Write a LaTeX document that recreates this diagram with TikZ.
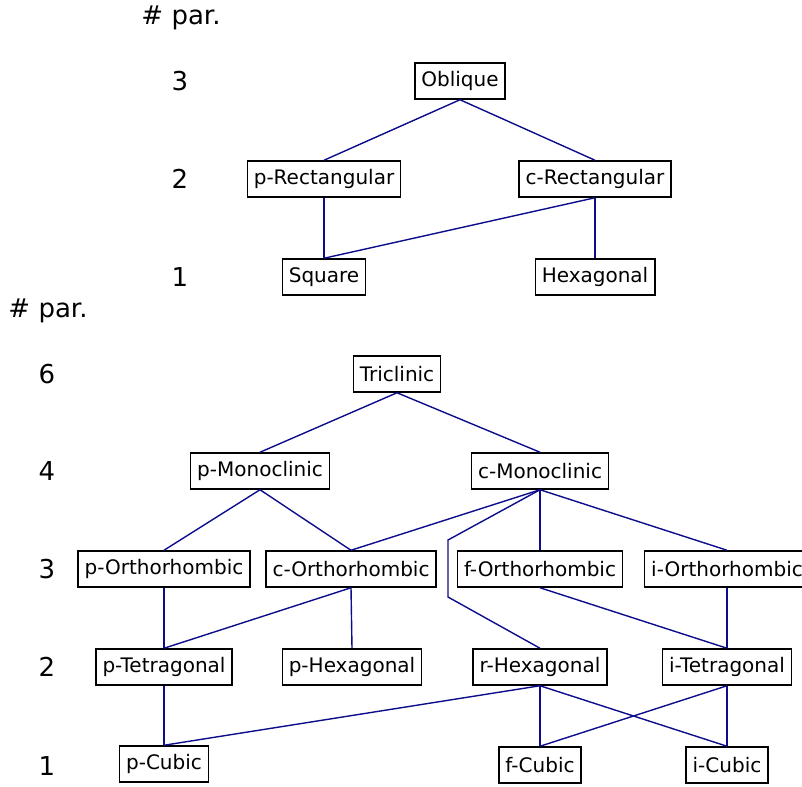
\documentclass[tikz,border=0pt]{standalone}
\usepackage{fontspec}
\setmainfont{DejaVu Sans}

\definecolor{edgeblue}{rgb}{0.05,0.05,0.55}

\tikzset{
  lattice/.style={draw=black, line width=1.5pt, fill=white, inner xsep=6.5pt, inner ysep=0pt,
    minimum height=36pt, font=\fontsize{20}{24}\selectfont},
  npar/.style={font=\fontsize{26}{30}\selectfont},
  link/.style={edgeblue, line width=1.4pt}
}

\begin{document}
\begin{tikzpicture}[x=1pt,y=-1pt]
  \useasboundingbox (0,0) rectangle (802,786);

  % 2D lattices
  \node[npar] (par2d) at (181,18) {\# par.};
  \node[npar] (n3a) at (180,81) {3};
  \node[npar] (n2a) at (180,179) {2};
  \node[npar] (n1a) at (180,277) {1};

  \node[lattice] (obl) at (460,81) {Oblique};
  \node[lattice] (prect) at (324,179) {p-Rectangular};
  \node[lattice] (crect) at (595,179) {c-Rectangular};
  \node[lattice] (sq) at (324,277) {Square};
  \node[lattice] (hex) at (595,277) {Hexagonal};

  \draw[link] (obl.south) -- (prect.north);
  \draw[link] (obl.south) -- (crect.north);
  \draw[link] (prect.south) -- (sq.north);
  \draw[link] (crect.south) -- (sq.north);
  \draw[link] (crect.south) -- (hex.north);

  % 3D lattices
  \node[npar] (par3d) at (48,311) {\# par.};
  \node[npar] (n6) at (47,374) {6};
  \node[npar] (n4) at (47,471) {4};
  \node[npar] (n3) at (47,569) {3};
  \node[npar] (n2) at (47,667) {2};
  \node[npar] (n1) at (47,766) {1};

  \node[lattice] (tric) at (397,374) {Triclinic};
  \node[lattice] (pmono) at (260,471) {p-Monoclinic};
  \node[lattice] (cmono) at (540,471) {c-Monoclinic};
  \node[lattice] (porth) at (164,569) {p-Orthorhombic};
  \node[lattice] (corth) at (351,569) {c-Orthorhombic};
  \node[lattice] (forth) at (540,569) {f-Orthorhombic};
  \node[lattice] (iorth) at (727,569) {i-Orthorhombic};
  \node[lattice] (ptet) at (164,667) {p-Tetragonal};
  \node[lattice] (phex) at (352,667) {p-Hexagonal};
  \node[lattice] (rhex) at (540,667) {r-Hexagonal};
  \node[lattice] (itet) at (727,667) {i-Tetragonal};
  \node[lattice] (pcub) at (164,764) {p-Cubic};
  \node[lattice] (fcub) at (540,765) {f-Cubic};
  \node[lattice] (icub) at (727,765) {i-Cubic};

  \coordinate (bendA) at (448,540);
  \coordinate (bendB) at (448,597);

  \draw[link] (tric.south) -- (pmono.north);
  \draw[link] (tric.south) -- (cmono.north);
  \draw[link] (pmono.south) -- (porth.north);
  \draw[link] (pmono.south) -- (corth.north);
  \draw[link] (cmono.south) -- (corth.north);
  \draw[link] (cmono.south) -- (forth.north);
  \draw[link] (cmono.south) -- (iorth.north);
  \draw[link] (cmono.south) -- (bendA) -- (bendB) -- (rhex.north);
  \draw[link] (porth.south) -- (ptet.north);
  \draw[link] (corth.south) -- (ptet.north);
  \draw[link] (corth.south) -- (phex.north);
  \draw[link] (forth.south) -- (itet.north);
  \draw[link] (iorth.south) -- (itet.north);
  \draw[link] (ptet.south) -- (pcub.north);
  \draw[link] (rhex.south) -- (pcub.north);
  \draw[link] (rhex.south) -- (fcub.north);
  \draw[link] (rhex.south) -- (icub.north);
  \draw[link] (itet.south) -- (fcub.north);
  \draw[link] (itet.south) -- (icub.north);
\end{tikzpicture}
\end{document}
